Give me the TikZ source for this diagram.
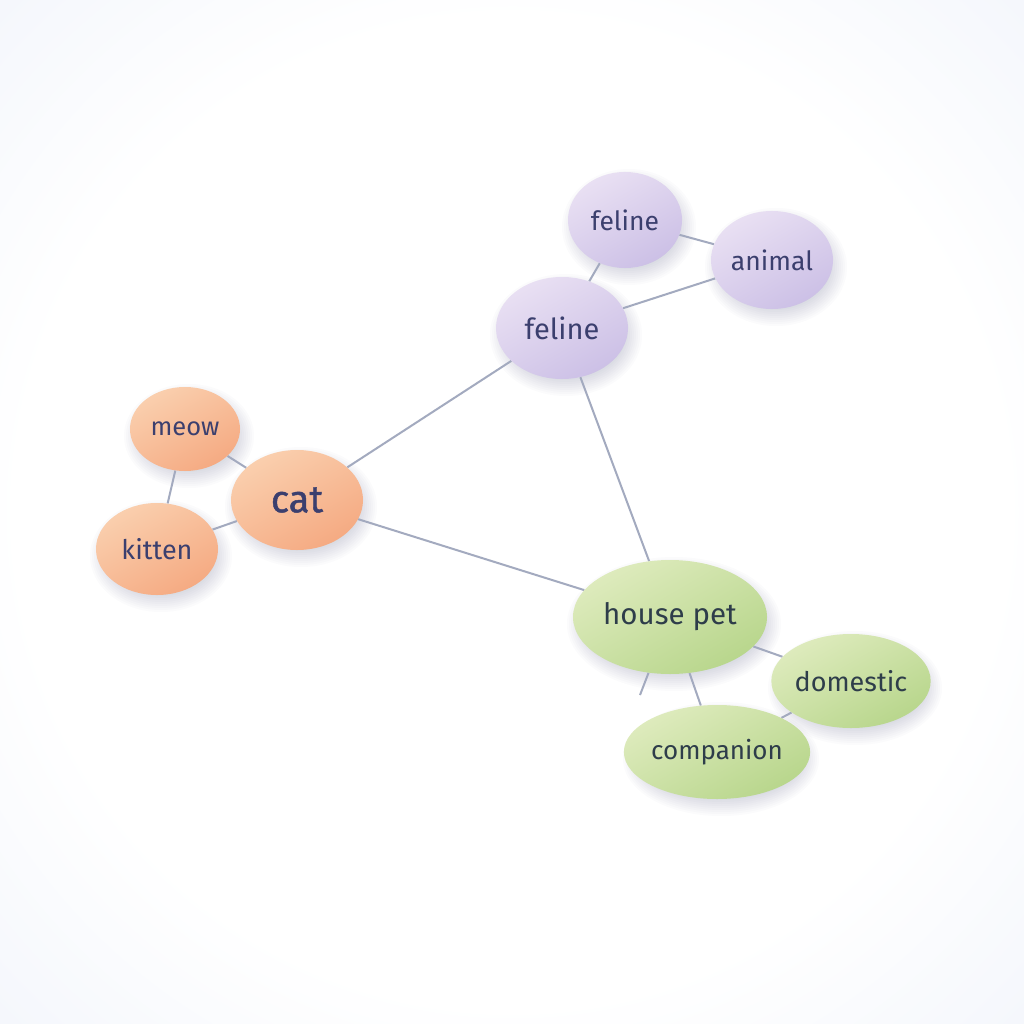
\documentclass[tikz,border=0pt]{standalone}
\usepackage{fontspec}
\setmainfont{Fira Sans}
\newfontfamily\catfont{Fira Sans}[FakeBold=1.2]
\usetikzlibrary{shapes.geometric,backgrounds}
\definecolor{edgec}{HTML}{A3AABF}
\definecolor{navy}{HTML}{3B3F6E}
\definecolor{slate}{HTML}{2E3D4A}
\definecolor{orA}{HTML}{FACFAE}
\definecolor{orB}{HTML}{F5AA82}
\definecolor{puA}{HTML}{E9E0F3}
\definecolor{puB}{HTML}{CCC0E6}
\definecolor{grA}{HTML}{DEEBBD}
\definecolor{grB}{HTML}{B8D68C}
\definecolor{bgout}{HTML}{E9EEF9}
\definecolor{shadc}{HTML}{5A6490}
\pgfdeclarelayer{bglayer}
\pgfsetlayers{bglayer,background,main}
\pgfdeclareradialshading{bgshade}{\pgfpoint{0bp}{0bp}}{color(0bp)=(white); color(24bp)=(white); color(48bp)=(bgout); color(100bp)=(bgout)}
\tikzset{
  bub/.style={ellipse, inner sep=0pt},
  orange/.style={bub, top color=orA, bottom color=orB, shading angle=30, text=navy},
  purple/.style={bub, top color=puA, bottom color=puB, shading angle=30, text=navy},
  green/.style={bub, top color=grA, bottom color=grB, shading angle=30, text=slate},
  link/.style={draw=edgec, line width=2pt},
  shad/.style={fill=shadc, opacity=0.022},
}
\newcommand{\softshadow}[3]{%
  \foreach \k in {0,...,9}{\fill[shad] ([shift={(4,7)}]#1.center) ellipse ({#2+10-2*\k} and {#3+10-2*\k});}}
\begin{document}
\begin{tikzpicture}[x=1pt,y=-1pt]
\useasboundingbox (0,0) rectangle (1024,1024);
\begin{pgfonlayer}{bglayer}
\shade[shading=bgshade] (0,0) rectangle (1024,1024);
\end{pgfonlayer}
% nodes
\node[orange, minimum width=110pt, minimum height=84pt, font=\fontsize{25.5}{25.5}\selectfont] (meow) at (185,429) {meow};
\node[orange, minimum width=122pt, minimum height=92pt, font=\fontsize{27}{27}\selectfont] (kitten) at (157,549) {kitten};
\node[orange, minimum width=132pt, minimum height=100pt, font=\fontsize{38}{38}\catfont] (cat) at (297,500) {cat};
\node[purple, minimum width=132pt, minimum height=102pt, font=\fontsize{29}{29}\selectfont] (fel) at (562,328) {feline};
\node[purple, minimum width=114pt, minimum height=96pt, font=\fontsize{26.5}{26.5}\selectfont] (fel2) at (625,220) {feline};
\node[purple, minimum width=122pt, minimum height=98pt, font=\fontsize{26.5}{26.5}\selectfont] (animal) at (772,260) {animal};
\node[green, minimum width=194pt, minimum height=114pt, font=\fontsize{29.5}{29.5}\selectfont] (house) at (670,617) {house pet};
\node[green, minimum width=154pt, minimum height=94pt, font=\fontsize{27}{27}\selectfont] (dom) at (851,681) {domestic};
\node[green, minimum width=176pt, minimum height=94pt, font=\fontsize{26}{26}\selectfont] (comp) at (717,752) {companion};
\coordinate (stub) at (640,695);
\begin{pgfonlayer}{background}
\softshadow{meow}{55}{42}
\softshadow{kitten}{61}{46}
\softshadow{cat}{66}{50}
\softshadow{fel}{66}{51}
\softshadow{fel2}{57}{48}
\softshadow{animal}{61}{49}
\softshadow{house}{97}{57}
\softshadow{dom}{77}{47}
\softshadow{comp}{88}{47}
\draw[link] (meow) -- (cat);
\draw[link] (meow) -- (kitten);
\draw[link] (kitten) -- (cat);
\draw[link] (cat) -- (fel);
\draw[link] (cat) -- (house);
\draw[link] (fel) -- (house);
\draw[link] (fel) -- (fel2);
\draw[link] (fel2) -- (animal);
\draw[link] (fel) -- (animal);
\draw[link] (house) -- (dom);
\draw[link] (house) -- (comp);
\draw[link] (dom) -- (comp);
\draw[link] (house) -- (stub);
\end{pgfonlayer}
\end{tikzpicture}
\end{document}
